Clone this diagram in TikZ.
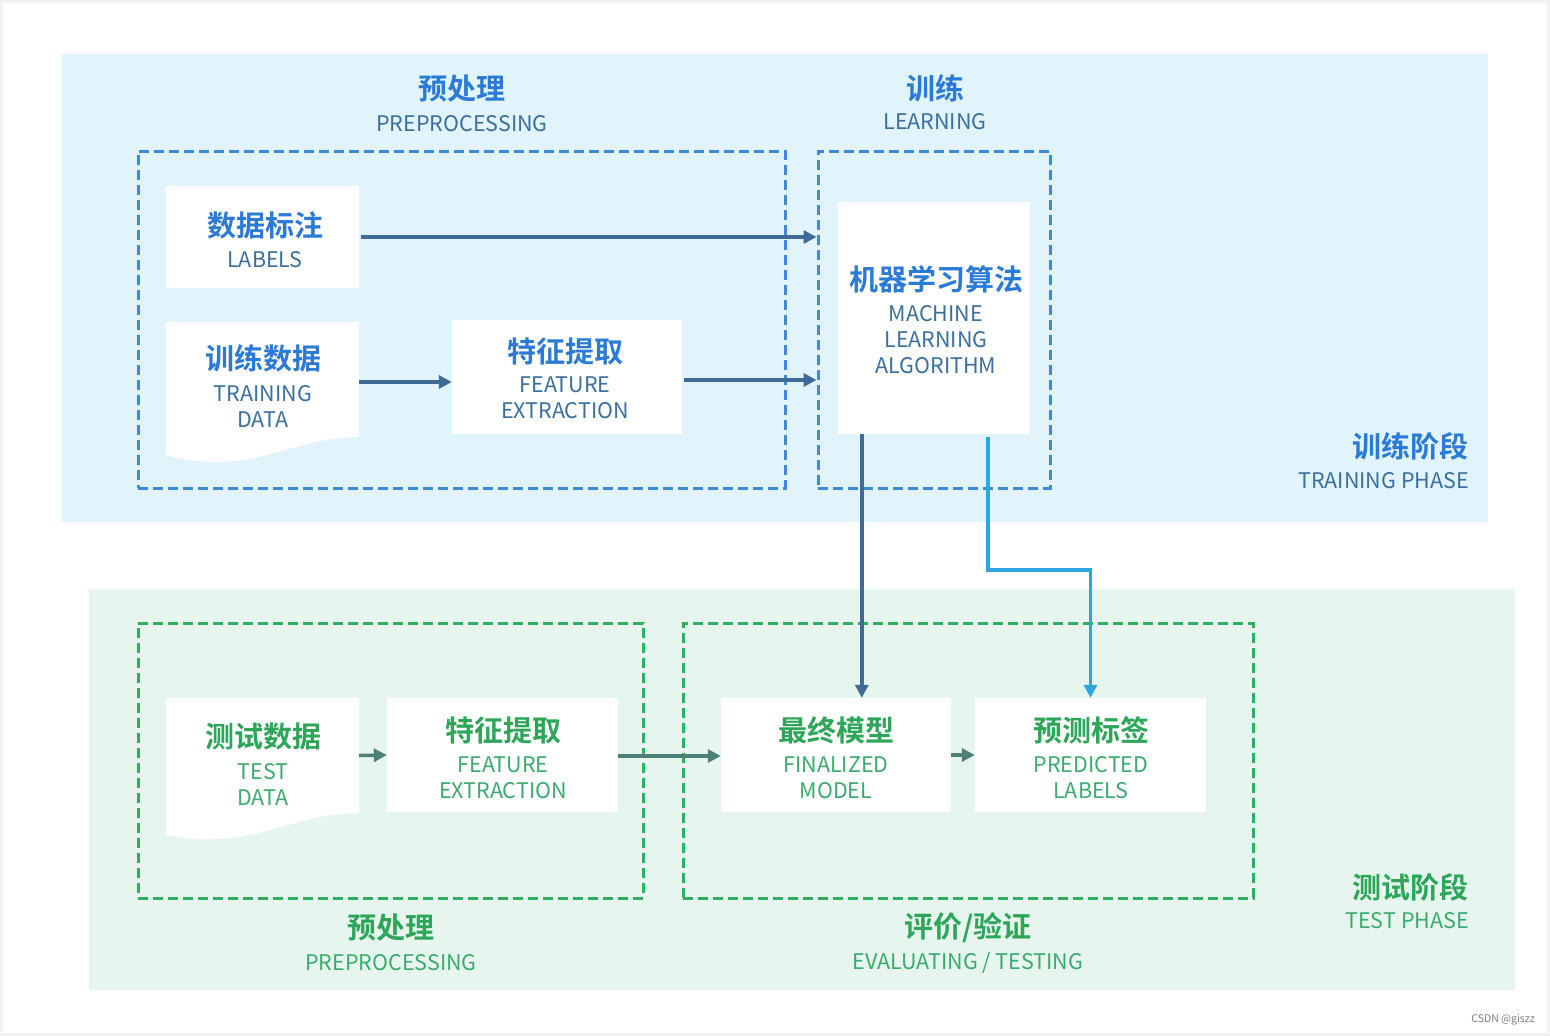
\documentclass[tikz,border=0pt]{standalone}
\usepackage{fontspec}
\setmainfont{Noto Sans CJK SC}[BoldFont={Noto Sans CJK SC Bold}]
\usetikzlibrary{arrows.meta}
\definecolor{bluebg}{HTML}{E1F3FB}
\definecolor{greenbg}{HTML}{E6F6EE}
\definecolor{bluedash}{HTML}{3F8AD8}
\definecolor{greendash}{HTML}{2FAE62}
\definecolor{cnblue}{HTML}{2B7BD6}
\definecolor{enblue}{HTML}{3A6F9E}
\definecolor{arrowdark}{HTML}{3E6C96}
\definecolor{arrowlight}{HTML}{2AA6E0}
\definecolor{cngreen}{HTML}{2EA65A}
\definecolor{engreen}{HTML}{3BAA6C}
\definecolor{arrowgreen}{HTML}{4F8077}
\newcommand\cnt{\fontsize{29}{33}\selectfont\bfseries}
\newcommand\ent{\fontsize{21.5}{26}\selectfont}
\tikzset{
  whitebox/.style={fill=white, draw=none, inner sep=0pt},
  bdash/.style={draw=bluedash, line width=3pt, dash pattern=on 10pt off 5pt, fill=none, inner sep=0pt},
  gdash/.style={draw=greendash, line width=3pt, dash pattern=on 10pt off 5pt, fill=none, inner sep=0pt},
  cnb/.style={text=cnblue, font=\cnt, inner sep=0pt, align=center},
  enb/.style={text=enblue, font=\ent, inner sep=0pt, align=center},
  cng/.style={text=cngreen, font=\cnt, inner sep=0pt, align=center},
  eng/.style={text=engreen, font=\ent, inner sep=0pt, align=center},
  darr/.style={draw=arrowdark, line width=3.5pt, -{Triangle[length=13pt,width=13pt]}},
  larr/.style={draw=arrowlight, line width=3.5pt, -{Triangle[length=13pt,width=13pt]}},
  garr/.style={draw=arrowgreen, line width=3.5pt, -{Triangle[length=13pt,width=13pt]}},
}
\begin{document}
\begin{tikzpicture}[x=1pt,y=-1pt]
\useasboundingbox (0,0) rectangle (1550,1036);
\fill[white] (0,0) rectangle (1550,1036);
\draw[color=black!5, line width=3pt] (1.5,1.5) rectangle (1548.5,1034.5);
% panels
\node[fill=bluebg, inner sep=0pt, minimum width=1426pt, minimum height=468pt] (trainpanel) at (775,288) {};
\node[fill=greenbg, inner sep=0pt, minimum width=1426pt, minimum height=401pt] (testpanel) at (802,789.5) {};
% dashed group boxes
\node[bdash, minimum width=647pt, minimum height=337pt] (prebox) at (461.5,319.5) {};
\node[bdash, minimum width=232pt, minimum height=337pt] (learnbox) at (934,319.5) {};
\node[gdash, minimum width=505pt, minimum height=275pt] (pre2box) at (390.5,760.5) {};
\node[gdash, minimum width=570pt, minimum height=275pt] (evalbox) at (968,760.5) {};
% group titles
\node[cnb] (t1) at (462,89) {预处理};
\node[enb] (t1e) at (462,124) {PREPROCESSING};
\node[cnb] (t2) at (935,88) {训练};
\node[enb] (t2e) at (935,122) {LEARNING};
\node[cnb, anchor=east] (tp) at (1469,446) {训练阶段};
\node[enb, anchor=east] (tpe) at (1469,481) {TRAINING PHASE};
\node[cng] (t3) at (391,928) {预处理};
\node[eng] (t3e) at (391,963) {PREPROCESSING};
\node[cng] (t4) at (968,928) {评价/验证};
\node[eng] (t4e) at (968,963) {EVALUATING / TESTING};
\node[cng, anchor=east] (sp) at (1469,887) {测试阶段};
\node[eng, anchor=east] (spe) at (1469,921) {TEST PHASE};
% training boxes
\node[whitebox, minimum width=193pt, minimum height=102pt] (labels) at (262.5,237) {};
\node[cnb] at (265,225) {数据标注};
\node[enb] at (265,260) {LABELS};
\fill[white] (166,322) -- (359,322) -- (359,437) .. controls (290,437) and (250,478) .. (166,455) -- cycle;
\node[inner sep=0pt, minimum width=193pt, minimum height=115pt] (tdata) at (262.5,379.5) {};
\node[cnb] at (263,358) {训练数据};
\node[enb] at (263,406) {TRAINING\\DATA};
\node[whitebox, minimum width=230pt, minimum height=114pt] (fe) at (567,377) {};
\node[cnb] at (565,351) {特征提取};
\node[enb] at (565,398) {FEATURE\\EXTRACTION};
\node[whitebox, minimum width=192pt, minimum height=232pt] (ml) at (934,318) {};
\node[cnb] at (936,279) {机器学习算法};
\node[enb] at (936,340) {MACHINE\\LEARNING\\ALGORITHM};
% test boxes
\fill[white] (166,698) -- (359,698) -- (359,813) .. controls (290,813) and (250,852) .. (166,835) -- cycle;
\node[inner sep=0pt, minimum width=193pt, minimum height=115pt] (tsdata) at (262.5,755.5) {};
\node[cng] at (263,737) {测试数据};
\node[eng] at (263,784.5) {TEST\\DATA};
\node[whitebox, minimum width=231pt, minimum height=114pt] (fe2) at (502.5,755) {};
\node[cng] at (503,730) {特征提取};
\node[eng] at (503,777.5) {FEATURE\\EXTRACTION};
\node[whitebox, minimum width=230pt, minimum height=114pt] (fm) at (836,755) {};
\node[cng] at (836,730) {最终模型};
\node[eng] at (836,777.5) {FINALIZED\\MODEL};
\node[whitebox, minimum width=231pt, minimum height=114pt] (pl) at (1090.5,755) {};
\node[cng] at (1091,730) {预测标签};
\node[eng] at (1091,777.5) {PREDICTED\\LABELS};
% arrows top
\draw[darr] ([xshift=2pt]labels.east) -- (labels.east -| learnbox.west);
\draw[darr] ([yshift=-2.5pt]tdata.east) -- ([yshift=-2.5pt]tdata.east -| fe.west);
\draw[darr] ([xshift=2pt,yshift=-3pt]fe.east) -- ([yshift=-3pt]fe.east -| learnbox.west);
\draw[darr] ([xshift=24pt]ml.south west) -- ([xshift=141pt]fm.north west);
\draw[larr] ([xshift=-42pt,yshift=-3pt]ml.south east) |- ([yshift=128pt]pl.north) -- (pl.north);
% arrows bottom
\draw[garr] (tsdata.east) -- (fe2.west);
\draw[garr] ([yshift=-1pt]fe2.east) -- ([yshift=-1pt]fm.west);
\draw[garr] (fm.east) -- (pl.west);
% watermark
\node[anchor=east, text=black!50, font=\fontsize{10.5}{12}\selectfont, inner sep=0pt] (wm) at (1535,1020) {CSDN @giszz};
\end{tikzpicture}
\end{document}
